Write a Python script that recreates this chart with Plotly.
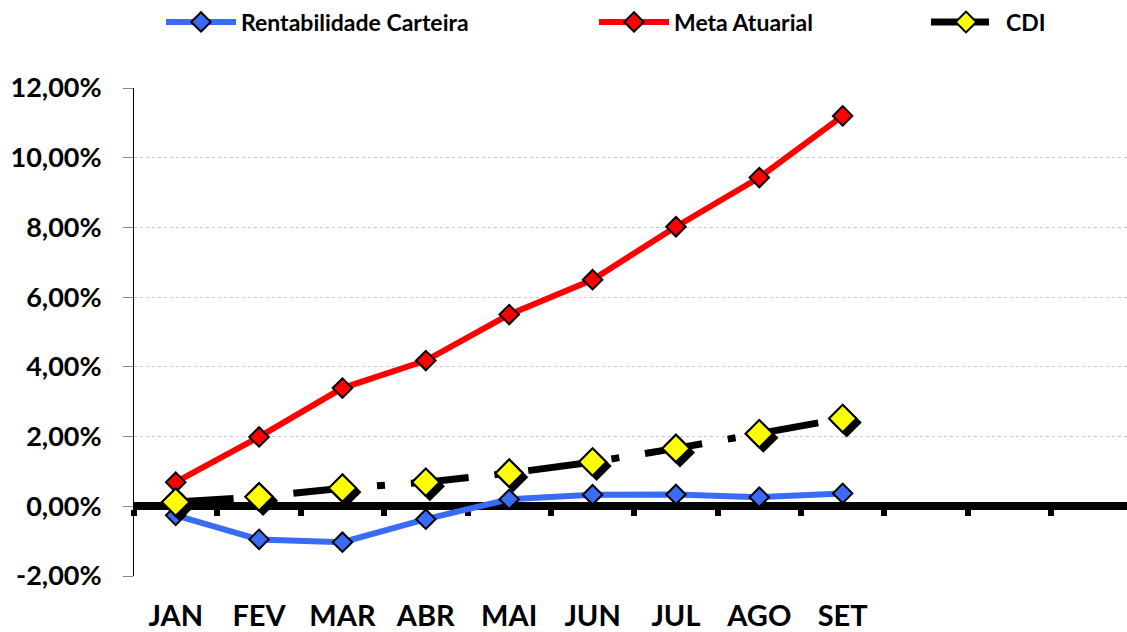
import plotly.graph_objects as go

months = ["JAN", "FEV", "MAR", "ABR", "MAI", "JUN", "JUL", "AGO", "SET"]
rentabilidade = [-0.26, -0.95, -1.03, -0.37, 0.20, 0.33, 0.34, 0.26, 0.37]
meta_atuarial = [0.69, 1.99, 3.39, 4.18, 5.50, 6.50, 8.02, 9.43, 11.20]
cdi = [0.12, 0.27, 0.52, 0.69, 0.95, 1.27, 1.66, 2.08, 2.52]

y_ticks = [-2, 0, 2, 4, 6, 8, 10, 12]
y_ticktext = ["-2,00%", "0,00%", "2,00%", "4,00%", "6,00%", "8,00%", "10,00%", "12,00%"]
n_slots = 12

FONT = "Lato"
idx = list(range(len(months)))

W, H = 1127, 632
ml, mr, mt, mb = 134, 0, 88, 56
pw = W - ml - mr
ph = H - mt - mb
slot = 83.375
x_end = -0.5 + pw / slot
y_lo, y_hi = -2, 12
ppu = ph / (y_hi - y_lo)
shadow = 4  # px offset of the marker shadow

fig = go.Figure()
fig.add_trace(go.Scatter(
    x=idx, y=rentabilidade, name="Rentabilidade Carteira", mode="lines+markers",
    line=dict(color="#3a6bf5", width=6),
    marker=dict(symbol="diamond", size=15, color="#3a6bf5", line=dict(color="black", width=2)),
    legend="legend",
))
fig.add_trace(go.Scatter(
    x=idx, y=meta_atuarial, name="Meta Atuarial", mode="lines+markers",
    line=dict(color="#ff0000", width=6),
    marker=dict(symbol="diamond", size=15, color="#ff0000", line=dict(color="black", width=2)),
    legend="legend2",
))
fig.add_trace(go.Scatter(
    x=idx, y=cdi, name="CDI", mode="lines+markers",
    line=dict(color="black", width=7, dash="58px,26px,8px,26px"),
    marker=dict(symbol="diamond", size=21, color="#ffff00", line=dict(color="black", width=2)),
    legend="legend3",
))
# shadow of CDI markers (overlay axes shifted by a few pixels)
fig.add_trace(go.Scatter(
    x=idx, y=cdi, mode="markers", xaxis="x3", yaxis="y3", showlegend=False, hoverinfo="skip",
    marker=dict(symbol="diamond", size=21, color="black", line=dict(color="black", width=2)),
))
# CDI markers redrawn above the shadow
fig.add_trace(go.Scatter(
    x=idx, y=cdi, mode="markers", xaxis="x4", yaxis="y4", showlegend=False, hoverinfo="skip",
    marker=dict(symbol="diamond", size=21, color="#ffff00", line=dict(color="black", width=2)),
))
# invisible trace to activate xaxis2 (zero line with ticks)
fig.add_trace(go.Scatter(x=[None], y=[None], xaxis="x2", showlegend=False, hoverinfo="skip"))

leg_common = dict(orientation="h", yanchor="middle", y=1 - 22 / H, yref="container",
                  xref="container", xanchor="left",
                  font=dict(family=FONT, size=23, color="black", weight="bold"),
                  bgcolor="rgba(0,0,0,0)", itemwidth=70)

hidden = dict(visible=False, showgrid=False, zeroline=False, automargin=False)

fig.update_layout(
    width=W, height=H,
    margin=dict(l=ml, r=mr, t=mt, b=mb, autoexpand=False),
    plot_bgcolor="white", paper_bgcolor="white",
    font=dict(family=FONT, color="black"),
    legend=dict(leg_common, x=161 / W),
    legend2=dict(leg_common, x=594 / W),
    legend3=dict(leg_common, x=926 / W),
    xaxis=dict(
        range=[-0.5, x_end], tickvals=idx, ticktext=months,
        showline=False, showgrid=False, zeroline=False, automargin=False,
        ticks="outside", ticklen=14, tickcolor="rgba(0,0,0,0)",
        tickfont=dict(family=FONT, size=29, color="black", weight="bold"),
    ),
    xaxis2=dict(
        overlaying="x", anchor="free", position=(0 - y_lo) / (y_hi - y_lo),
        range=[-0.5, x_end], automargin=False,
        tickvals=[i - 0.5 for i in range(n_slots + 1)], showticklabels=False,
        showline=True, linecolor="black", linewidth=8,
        ticks="outside", ticklen=6, tickwidth=6, tickcolor="black",
        showgrid=False, zeroline=False, layer="below traces",
    ),
    xaxis3=dict(hidden, overlaying="x", anchor="y3",
                range=[-0.5 - shadow / slot, x_end - shadow / slot]),
    yaxis3=dict(hidden, overlaying="y", anchor="x3",
                range=[y_lo + shadow / ppu, y_hi + shadow / ppu]),
    xaxis4=dict(hidden, overlaying="x", anchor="y4", range=[-0.5, x_end]),
    yaxis4=dict(hidden, overlaying="y", anchor="x4", range=[y_lo, y_hi]),
    yaxis=dict(
        range=[y_lo, y_hi], tickvals=y_ticks, ticktext=y_ticktext,
        showline=True, linecolor="black", linewidth=1, automargin=False,
        ticks="outside", ticklen=10, tickcolor="#888888",
        showgrid=True, gridcolor="#c8c8c8", griddash="dot", gridwidth=1,
        zeroline=False, ticklabelstandoff=16,
        tickfont=dict(family=FONT, size=27, color="black", weight="bold"),
    ),
)

fig.write_html("out.html", config={"displayModeBar": False},
               post_script="document.body.style.margin='0px';")
